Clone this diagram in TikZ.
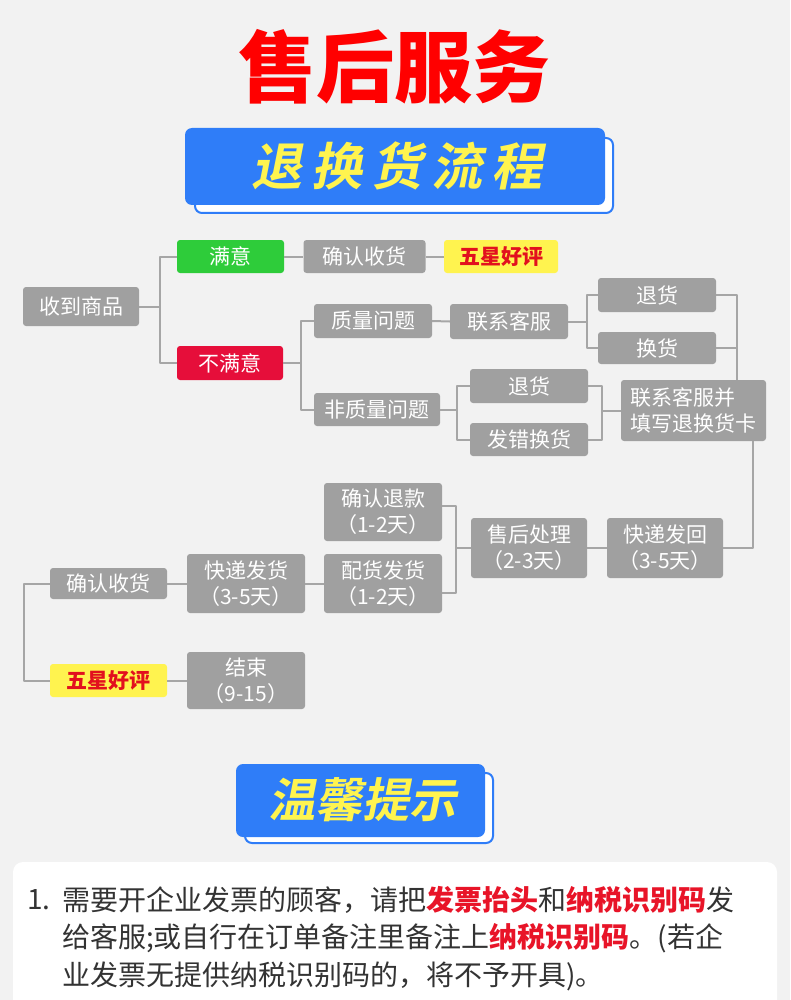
\documentclass[tikz,border=0pt]{standalone}
\usepackage{fontspec}
\setmainfont{Noto Sans CJK SC}
\newfontfamily\bannerfont[FakeSlant=0.2]{Noto Sans CJK SC Bold}

\begin{document}
\begin{tikzpicture}[x=1pt, y=-1pt, line join=round,
    box/.style={fill=boxgray, text=white, rounded corners=3pt, inner sep=0pt, align=center, font=\fontsize{21}{26}\selectfont},
    okbox/.style={box, fill=okgreen},
    nokbox/.style={box, fill=nokred},
    starbox/.style={box, fill=staryellow, text=starred, font=\fontsize{21}{26}\selectfont\bfseries},
    link/.style={draw=linegray, line width=2pt},
    banner/.style={fill=bannerblue, rounded corners=7pt},
    bannershadow/.style={fill=white, draw=bannerblue, line width=2pt, rounded corners=7pt},
    bannertext/.style={text=banneryellow, font=\bannerfont},
    tipline/.style={anchor=west, text=tipgray, inner sep=0pt, font=\fontsize{28}{38}\selectfont}]
    \definecolor{bggray}{RGB}{242, 242, 242}    % Background
    \definecolor{boxgray}{RGB}{160, 160, 160}   % Gray boxes
    \definecolor{linegray}{RGB}{166, 166, 166}  % Branches
    \definecolor{okgreen}{RGB}{46, 204, 58}     % Green
    \definecolor{nokred}{RGB}{230, 14, 58}      % Red
    \definecolor{staryellow}{RGB}{255, 243, 79} % Yellow
    \definecolor{starred}{RGB}{226, 16, 30}
    \definecolor{titlered}{RGB}{255, 0, 0}
    \definecolor{bannerblue}{RGB}{47, 125, 248}
    \definecolor{banneryellow}{RGB}{255, 244, 79}
    \definecolor{tipgray}{RGB}{51, 51, 51}
    \definecolor{tipred}{RGB}{232, 20, 40}

    % Background
    \fill[bggray] (0,0) rectangle (790,1000);
    \useasboundingbox (0,0) rectangle (790,1000);

    % Title
    \node[text=titlered, font=\fontsize{78}{78}\selectfont\bfseries] (title) at (394,67) {售后服务};

    % Banner
    \draw[bannershadow] (195,138) rectangle (613,213);
    \fill[banner] (185,128) rectangle (605,205);
    \node[bannertext, font=\fontsize{51}{51}\bannerfont] (flow) at (397,166)
        {退\hspace{9pt}换\hspace{9pt}货\hspace{9pt}流\hspace{9pt}程};

    % Nodes
    \node[box, minimum width=116, minimum height=39] (received) at (81,306.5) {收到商品};
    \node[okbox, minimum width=107, minimum height=33] (happy) at (230.5,256.5) {满意};
    \node[nokbox, minimum width=106, minimum height=34] (unhappy) at (230,363) {不满意};
    \node[box, minimum width=122, minimum height=33] (confirmA) at (364.5,256.5) {确认收货};
    \node[starbox, minimum width=114, minimum height=33] (starA) at (501,256.5) {五星好评};
    \node[box, minimum width=118, minimum height=34] (quality) at (373,321) {质量问题};
    \node[box, minimum width=126, minimum height=33] (nonquality) at (377,409.5) {非质量问题};
    \node[box, minimum width=118, minimum height=35] (serviceA) at (509,321.5) {联系客服};
    \node[box, minimum width=118, minimum height=34] (returnA) at (657,295) {退货};
    \node[box, minimum width=118, minimum height=32] (exchange) at (657,348) {换货};
    \node[box, minimum width=118, minimum height=34] (returnB) at (529,386) {退货};
    \node[box, minimum width=118, minimum height=33] (wrongitem) at (529,439.5) {发错换货};
    \node[box, align=left, minimum width=145, minimum height=61] (serviceB) at (693.5,410.5) {联系客服并\\填写退换货卡};
    \node[box, minimum width=118, minimum height=58] (refund) at (383,512) {确认退款\\（1-2天）};
    \node[box, minimum width=118, minimum height=59] (prepare) at (383,583.5) {配货发货\\（1-2天）};
    \node[box, minimum width=118, minimum height=59] (shipout) at (246,583.5) {快递发货\\（3-5天）};
    \node[box, minimum width=117, minimum height=31] (confirmB) at (108.5,583.5) {确认收货};
    \node[starbox, minimum width=117, minimum height=33] (starB) at (108.5,680.5) {五星好评};
    \node[box, minimum width=118, minimum height=57] (done) at (246,680.5) {结束\\（9-15）};
    \node[box, minimum width=116, minimum height=60] (handle) at (529,548) {售后处理\\（2-3天）};
    \node[box, minimum width=116, minimum height=60] (shipback) at (665,548) {快递发回\\（3-5天）};

    % Branches
    \draw[link] (received.east) -- ++(21,0) |- (happy.west);
    \draw[link] (received.east) -- ++(21,0) |- (unhappy.west);
    \draw[link] (happy.east) -- (confirmA.west);
    \draw[link] (confirmA.east) -- (starA.west);
    \draw[link] (unhappy.east) -- ++(18,0) |- (quality.west);
    \draw[link] (unhappy.east) -- ++(18,0) |- (nonquality.west);
    \draw[link] (quality.east) -- (serviceA.west);
    \draw[link] (serviceA.east) -- ++(19,0) |- (returnA.west);
    \draw[link] (serviceA.east) -- ++(19,0) |- (exchange.west);
    \draw[link] (nonquality.east) -- ++(17,0) |- (returnB.west);
    \draw[link] (nonquality.east) -- ++(17,0) |- (wrongitem.west);
    \draw[link] (returnB.east) -- ++(14,0) |- (wrongitem.east);
    \draw[link] (serviceB.west) -- ++(-19,0);
    \draw[link] (returnA.east) -| ([xshift=43.5pt]serviceB.north);
    \draw[link] (exchange.east) -- ++(21,0);
    \draw[link] ([xshift=59.5pt]serviceB.south) |- (shipback.east);
    \draw[link] (shipback.west) -- (handle.east);
    \draw[link] ([yshift=6pt]refund.east) -- ++(14,0) |- ([yshift=-9.5pt]prepare.east);
    \draw[link] (handle.west) -- ++(-15,0);
    \draw[link] (prepare.west) -- (shipout.east);
    \draw[link] (shipout.west) -- (confirmB.east);
    \draw[link] (confirmB.west) -- ++(-26,0) |- (starB.west);
    \draw[link] (starB.east) -- (done.west);

    % Tips banner
    \draw[bannershadow] (245,773) rectangle (493,843);
    \fill[banner] (236,764) rectangle (485,837);
    \node[bannertext, font=\fontsize{47}{47}\bannerfont] (tips) at (362,800) {温馨提示};

    % Tips panel
    \fill[white, rounded corners=10pt] (13,862) rectangle (777,1015);
    \node[tipline] (num) at (27,900) {1.};
    \node[tipline] (lineA) at (62,900) {需要开企业发票的顾客，请把\textcolor{tipred}{\bfseries 发票抬头}和\textcolor{tipred}{\bfseries 纳税识别码}发};
    \node[tipline] (lineB) at (62,938) {给客服;或自行在订单备注里备注上\textcolor{tipred}{\bfseries 纳税识别码}。(若企};
    \node[tipline] (lineC) at (62,976) {业发票无提供纳税识别码的，将不予开具)。};
\end{tikzpicture}
\end{document}
